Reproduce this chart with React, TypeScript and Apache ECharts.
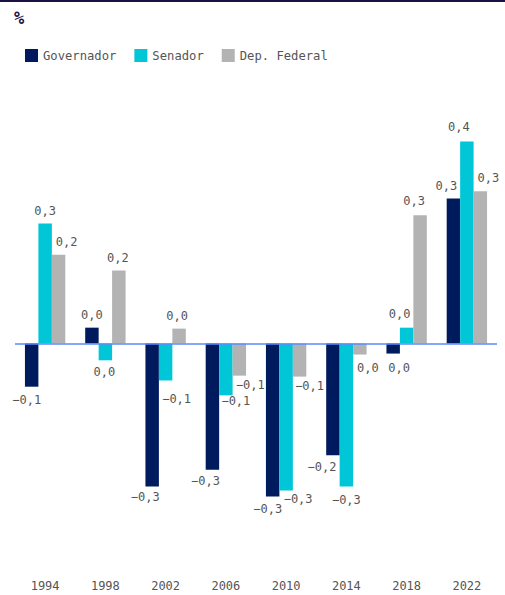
import React, { useEffect, useRef } from "react";
import * as echarts from "echarts";

const categories = ["1994", "1998", "2002", "2006", "2010", "2014", "2018", "2022"];
const governador = [-0.09, 0.033, -0.298, -0.263, -0.319, -0.233, -0.021, 0.302];
const senador = [0.25, -0.035, -0.077, -0.108, -0.306, -0.298, 0.033, 0.421];
const depFederal = [0.185, 0.152, 0.031, -0.067, -0.069, -0.023, 0.267, 0.317];
const seriesNames = ["Governador", "Senador", "Dep. Federal"];
const colors = ["#001a5e", "#00c6d7", "#b3b3b3"];

// label nudges (style only) [dx, dy] per category, to mimic the reference's label collision layout
const govLabelNudge = [[-5, 2], [0, -2], [-7, -1], [-7, 0], [-5, 1], [-11, 1], [6, 3], [-7, -2]];
const senLabelNudge = [[0, -2], [-1, 1], [11, 8], [10, -5], [12, -2], [0, 2], [-7, -3], [-8, -3]];
const depLabelNudge = [[8, -2], [-1, -2], [-2, -2], [11, -2], [10, -2], [8, 2], [-6, -3], [8, -2]];

const FONT = "'DejaVu Sans Mono', 'Liberation Mono', monospace";

function fmt(v: number): string {
  const r = Math.round(v * 10) / 10;
  if (r === 0) return "0,0";
  const s = Math.abs(r).toFixed(1).replace(".", ",");
  return r < 0 ? "\u2212" + s : s;
}

function makeSeries(
  name: string,
  values: number[],
  color: string,
  nudges: number[][],
  withZero: boolean
) {
  return {
    name,
    type: "bar",
    barGap: "0%",
    barCategoryGap: "33%",
    itemStyle: { color },
    data: values.map((v, i) => ({
      value: v,
      label: {
        show: true,
        position: v >= 0 ? "top" : "bottom",
        distance: 5,
        offset: nudges[i],
        formatter: () => fmt(v),
        color: "#555",
        textBorderWidth: 0,
        textBorderColor: "transparent",
        fontFamily: FONT,
        fontSize: 12,
      },
    })),
    markLine: withZero
      ? {
          silent: true,
          symbol: "none",
          label: { show: false },
          lineStyle: { color: "#5b8cf7", width: 1.5, type: "solid" },
          data: [{ yAxis: 0 }],
        }
      : undefined,
    z: 2,
  };
}

export default function App() {
  const ref = useRef<HTMLDivElement>(null);
  useEffect(() => {
    if (!ref.current) return;
    const chart = echarts.init(ref.current, null, { renderer: "svg" });
    chart.setOption({
      animation: false,
      backgroundColor: "#fff",
      graphic: [
        {
          type: "rect",
          shape: { x: 0, y: 0, width: 505, height: 2 },
          style: { fill: "#1b1244" },
        },
        {
          type: "text",
          left: 14,
          top: 9,
          style: { text: "%", fill: "#1b1244", font: `bold 17px ${FONT}` },
        },
      ],
      legend: {
        left: 20,
        top: 44,
        itemWidth: 13,
        itemHeight: 13,
        itemGap: 18,
        icon: "rect",
        textStyle: { color: "#555", fontFamily: FONT, fontSize: 12.2 },
        data: seriesNames,
      },
      grid: { left: 15, right: 8, top: 103.5, bottom: 35.5, containLabel: false },
      xAxis: {
        type: "category",
        data: categories,
        axisLine: { show: false, onZero: false },
        axisTick: { show: false },
        axisLabel: {
          color: "#555",
          fontFamily: FONT,
          fontSize: 12,
          margin: 20,
        },
      },
      yAxis: {
        type: "value",
        min: -0.45,
        max: 0.5,
        show: false,
        splitLine: { show: false },
      },
      series: [
        makeSeries(seriesNames[0], governador, colors[0], govLabelNudge, true),
        makeSeries(seriesNames[1], senador, colors[1], senLabelNudge, false),
        makeSeries(seriesNames[2], depFederal, colors[2], depLabelNudge, false),
      ],
    });
    return () => chart.dispose();
  }, []);
  return (
    <div
      ref={ref}
      style={{ position: "fixed", left: 0, top: 0, width: 505, height: 595 }}
    />
  );
}
